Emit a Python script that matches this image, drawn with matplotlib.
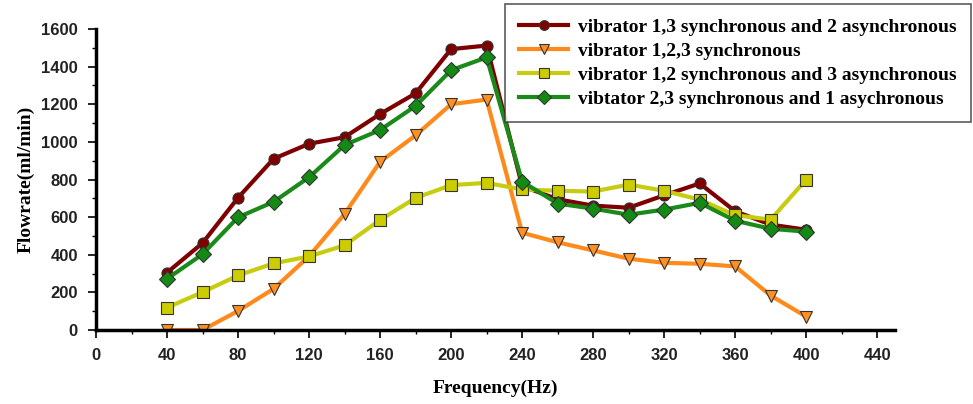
import matplotlib
matplotlib.use("Agg")
import matplotlib.pyplot as plt
from matplotlib.ticker import MultipleLocator

freq = [40, 60, 80, 100, 120, 140, 160, 180, 200, 220,
        240, 260, 280, 300, 320, 340, 360, 380, 400]

flow_13_sync = [305, 462, 703, 910, 990, 1025, 1148, 1258, 1493, 1512,
                765, 695, 661, 650, 716, 779, 631, 560, 533]
flow_123_sync = [0, 0, 101, 219, 392, 617, 894, 1035, 1200, 1225,
                 517, 466, 423, 379, 357, 352, 338, 183, 71]
flow_12_sync = [119, 201, 290, 354, 391, 450, 585, 702, 770, 782,
                747, 740, 736, 773, 740, 693, 610, 587, 800]
flow_23_sync = [272, 403, 599, 681, 812, 983, 1063, 1191, 1381, 1449,
                789, 672, 645, 613, 640, 676, 581, 538, 523]

labels = ["vibrator 1,3 synchronous and 2 asynchronous",
          "vibrator 1,2,3 synchronous",
          "vibrator 1,2 synchronous and 3 asynchronous",
          "vibtator 2,3 synchronous and 1 asychronous"]

series = [
    (flow_13_sync, "#7f0000", "#800000", "o", 8),
    (flow_123_sync, "#ff8a1c", "#ff9022", "v", 9),
    (flow_12_sync, "#c8cc10", "#cccc00", "s", 8),
    (flow_23_sync, "#1a8a1a", "#138a13", "D", 8),
]

fig = plt.figure(figsize=(9.73, 4.04), dpi=100)
ax = fig.add_axes([96 / 973, 74 / 404, 799 / 973, 301 / 404])

for (vals, lc, mc, mk, ms), lab in zip(series, labels):
    ax.plot(freq, vals, color=lc, lw=3, marker=mk, ms=ms,
            mfc=mc, mec="#333333", mew=0.8, label=lab)

ax.set_xlim(0, 450)
ax.set_ylim(0, 1600)
ax.xaxis.set_major_locator(MultipleLocator(40))
ax.xaxis.set_minor_locator(MultipleLocator(20))
ax.yaxis.set_major_locator(MultipleLocator(200))
ax.yaxis.set_minor_locator(MultipleLocator(100))

for s in ("top", "right"):
    ax.spines[s].set_visible(False)
for s in ("left", "bottom"):
    ax.spines[s].set_linewidth(2.5)

ax.tick_params(which="major", direction="out", length=6, width=1.2,
               labelsize=12, pad=7)
ax.tick_params(which="minor", direction="out", length=3, width=1)
for t in ax.get_xticklabels() + ax.get_yticklabels():
    t.set_fontweight("bold")
    t.set_fontfamily("Liberation Sans")
    t.set_color("#222222")

ax.set_xlabel("Frequency(Hz)", fontsize=14, fontweight="bold",
              family="Liberation Serif", labelpad=12)
ax.set_ylabel("Flowrate(ml/min)", fontsize=14, fontweight="bold",
              family="Liberation Serif", labelpad=5)

leg = fig.legend(loc="upper right", bbox_to_anchor=(971 / 973, 1 - 4 / 404),
                 prop={"family": "Liberation Serif", "weight": "bold", "size": 14},
                 frameon=True, fancybox=False, edgecolor="#333333",
                 handlelength=2.5, borderpad=0.75, labelspacing=0.32,
                 handletextpad=0.5, borderaxespad=0)
leg.get_frame().set_linewidth(1.2)
for h in leg.legend_handles:
    h.set_markersize(7)

fig.savefig("out.png", dpi=100)
